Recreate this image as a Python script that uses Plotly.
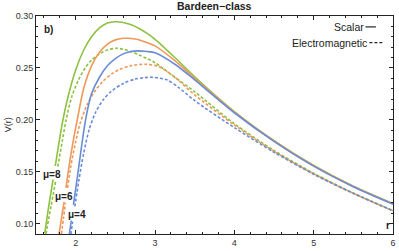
import plotly.graph_objects as go

# ---------------- data ----------------
# mu = 8 (green)
r_s8 = [1.61, 1.66, 1.715, None, 1.743, 1.78, 1.83, 1.90, 2.00, 2.10, 2.20, 2.30, 2.40, 2.50, 2.60, 2.70, 2.80, 2.90, 3.00, 3.25, 3.50, 4.00, 4.50, 5.00, 5.50, 6.00]
V_s8 = [0.0905, 0.1165, 0.1425, None, 0.1555, 0.1735, 0.1960, 0.2210, 0.2480, 0.2670, 0.2800, 0.2885, 0.2932, 0.2945, 0.2937, 0.2915, 0.2880, 0.2832, 0.2775, 0.2600, 0.2415, 0.2080, 0.1800, 0.1560, 0.1360, 0.1193]
r_e8 = [1.625, 1.69, 1.748, None, 1.775, 1.83, 1.88, 1.95, 2.03, 2.12, 2.20, 2.30, 2.40, 2.51, 2.60, 2.70, 2.80, 2.90, 3.00, 3.25, 3.50, 4.00, 4.50, 5.00, 5.50, 6.00]
V_e8 = [0.0900, 0.1170, 0.1410, None, 0.1549, 0.1790, 0.2000, 0.2220, 0.2375, 0.2500, 0.2575, 0.2635, 0.2673, 0.2689, 0.2680, 0.2657, 0.2625, 0.2590, 0.2550, 0.2410, 0.2270, 0.1962, 0.1705, 0.1485, 0.1295, 0.1126]
# mu = 6 (orange)
r_s6 = [1.79, 1.822, 1.854, None, 1.878, 1.92, 1.97, 2.02, 2.10, 2.20, 2.30, 2.40, 2.50, 2.60, 2.65, 2.75, 2.85, 3.00, 3.25, 3.50, 4.00, 4.50, 5.00, 5.50, 6.00]
V_s6 = [0.0900, 0.1055, 0.1210, None, 0.1344, 0.1570, 0.1800, 0.2000, 0.2300, 0.2520, 0.2650, 0.2730, 0.2770, 0.2785, 0.2786, 0.2778, 0.2757, 0.2712, 0.2570, 0.2400, 0.2074, 0.1796, 0.1557, 0.1358, 0.1190]
r_e6 = [1.82, 1.846, 1.871, None, 1.898, 1.94, 2.00, 2.06, 2.15, 2.25, 2.35, 2.45, 2.55, 2.70, 2.88, 3.05, 3.25, 3.50, 4.00, 4.50, 5.00, 5.50, 6.00]
V_e6 = [0.0900, 0.1050, 0.1200, None, 0.1344, 0.1555, 0.1790, 0.1975, 0.2155, 0.2285, 0.2375, 0.2440, 0.2485, 0.2522, 0.2535, 0.2512, 0.2410, 0.2240, 0.1950, 0.1696, 0.1480, 0.1292, 0.1124]
# mu = 4 (blue)
r_s4 = [1.92, 1.945, None, 1.972, 2.02, 2.07, 2.125, 2.20, 2.30, 2.40, 2.50, 2.60, 2.70, 2.78, 2.90, 3.00, 3.25, 3.50, 4.00, 4.50, 5.00, 5.50, 6.00]
V_s4 = [0.0900, 0.1030, None, 0.1180, 0.1440, 0.1720, 0.2000, 0.2250, 0.2410, 0.2520, 0.2590, 0.2635, 0.2658, 0.2664, 0.2658, 0.2645, 0.2535, 0.2385, 0.2068, 0.1792, 0.1554, 0.1356, 0.1188]
r_e4 = [1.94, 1.962, None, 1.99, 2.04, 2.10, 2.17, 2.25, 2.35, 2.45, 2.60, 2.75, 2.87, 2.97, 3.15, 3.30, 3.50, 4.00, 4.50, 5.00, 5.50, 6.00]
V_e4 = [0.0900, 0.1020, None, 0.1165, 0.1415, 0.1675, 0.1905, 0.2070, 0.2195, 0.2275, 0.2350, 0.2392, 0.2406, 0.2409, 0.2385, 0.2310, 0.2185, 0.1925, 0.1688, 0.1475, 0.1290, 0.1122]

x_ticks = [2, 3, 4, 5, 6]
y_ticks = [0.10, 0.15, 0.20, 0.25, 0.30]
mu_labels = ["μ=8", "μ=6", "μ=4"]
mu_label_r = [1.706, 1.85, 2.012]
mu_label_V = [0.147, 0.1266, 0.1084]

GREEN = "#8DC140"
ORANGE = "#EF9858"
BLUE = "#6A8CD6"
FONT = "Liberation Sans, Arial"

fig = go.Figure()
series = [
    (r_s8, V_s8, GREEN, "solid"), (r_e8, V_e8, GREEN, "3px,2px"),
    (r_s6, V_s6, ORANGE, "solid"), (r_e6, V_e6, ORANGE, "3px,2px"),
    (r_s4, V_s4, BLUE, "solid"), (r_e4, V_e4, BLUE, "3px,2px"),
]
for xs, ys, c, d in series:
    fig.add_trace(go.Scatter(x=xs, y=ys, mode="lines",
                             line=dict(color=c, width=1.6, dash=d, shape="spline", smoothing=0.8),
                             showlegend=False, hoverinfo="skip"))

for t, xr, yv in zip(mu_labels, mu_label_r, mu_label_V):
    fig.add_annotation(x=xr, y=yv, text="<b>" + t + "</b>", showarrow=False,
                       xanchor="center", yanchor="middle",
                       font=dict(family=FONT, size=10, color="#222"))

axis_common = dict(showline=True, linecolor="#222", linewidth=1, mirror="ticks",
                   ticks="inside", ticklen=4, tickcolor="#222", showgrid=False, zeroline=False,
                   tickfont=dict(family=FONT, size=9, color="#333"))
fig.update_xaxes(range=[1.5, 6], tickvals=x_ticks, ticklabelstandoff=0,
                 minor=dict(dtick=0.2, ticks="inside", ticklen=2, tickcolor="#222"), **axis_common)
fig.update_yaxes(range=[0.09, 0.30], tickvals=y_ticks, tickformat=".2f",
                 minor=dict(dtick=0.01, ticks="inside", ticklen=2, tickcolor="#222"), **axis_common)

# texts
fig.add_annotation(xref="paper", yref="paper", x=0.5, y=1.0, yshift=10, xanchor="center", yanchor="middle",
                   text="<b>Bardeen−class</b>", showarrow=False,
                   font=dict(family=FONT, size=10.5, color="#222"))
fig.add_annotation(xref="paper", yref="paper", x=0.017, y=0.94, xanchor="left", yanchor="middle",
                   text="<b>b)</b>", showarrow=False, font=dict(family=FONT, size=10, color="#222"))
fig.add_annotation(xref="paper", yref="paper", x=-0.078, y=0.5, xanchor="center", yanchor="middle",
                   text="V(r)", textangle=-90, showarrow=False,
                   font=dict(family=FONT, size=9, color="#333"))
fig.add_annotation(xref="paper", yref="paper", x=0.985, y=0.04, xanchor="center", yanchor="middle",
                   text="<b>r</b>", showarrow=False, font=dict(family=FONT, size=10, color="#222"))
# legend
fig.add_annotation(xref="paper", yref="paper", x=0.923, y=0.95, xanchor="right", yanchor="middle",
                   text="Scalar", showarrow=False, font=dict(family=FONT, size=10.5, color="#222"))
fig.add_annotation(xref="paper", yref="paper", x=0.932, y=0.878, xanchor="right", yanchor="middle",
                   text="Electromagnetic", showarrow=False, font=dict(family=FONT, size=10.5, color="#222"))
fig.add_shape(type="line", xref="paper", yref="paper", x0=0.923, x1=0.952, y0=0.95, y1=0.95,
              line=dict(color="#222", width=1.2))
fig.add_shape(type="line", xref="paper", yref="paper", x0=0.934, x1=0.97, y0=0.878, y1=0.878,
              line=dict(color="#222", width=1.2, dash="3px,2px"))

fig.update_layout(width=399, height=251, margin=dict(l=36, r=3, t=16, b=12),
                  paper_bgcolor="white", plot_bgcolor="white")
fig.write_html("out.html", post_script="document.body.style.margin='0';",
               config={"displayModeBar": False})
